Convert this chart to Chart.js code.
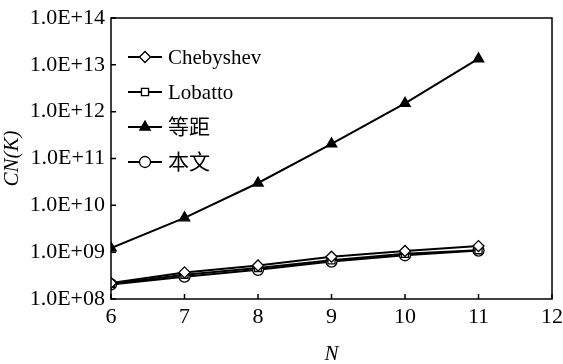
<!DOCTYPE html>
<html>
<head>
<meta charset="utf-8">
<script src="https://cdn.jsdelivr.net/npm/chart.js@4"></script>
<style>
  body { margin: 0; background: #fff; }
  canvas { display: block; }
</style>
</head>
<body>
<canvas id="myChart" width="563" height="364"></canvas>
<script>
// datos
const valoresN = [6, 7, 8, 9, 10, 11];
const chebyshev = [2.2e8, 3.7e8, 5.2e8, 8.0e8, 1.06e9, 1.35e9];
const lobatto = [2.1e8, 3.3e8, 4.6e8, 6.7e8, 9.2e8, 1.1e9];
const equidistante = [1.23e9, 5.4e9, 3.0e10, 2.05e11, 1.5e12, 1.35e13];
const propuesto = [2.05e8, 3.0e8, 4.2e8, 6.3e8, 8.6e8, 1.08e9];
const etiquetas = ['Chebyshev', 'Lobatto', '等距', '本文'];
const ticksX = [6, 7, 8, 9, 10, 11, 12];
const ticksY = [1e8, 1e9, 1e10, 1e11, 1e12, 1e13, 1e14];

const fuente = "'Liberation Serif', 'Times New Roman', 'Noto Sans CJK SC', serif";

function puntos(valores) {
    return valoresN.map((n, i) => ({ x: n, y: valores[i] }));
}

function serie(label, valores, estilo, relleno, radio) {
    return {
        label: label,
        data: puntos(valores),
        borderColor: '#000',
        borderWidth: 2,
        pointStyle: estilo,
        pointRadius: radio,
        pointBorderWidth: 1.3,
        pointBorderColor: '#000',
        pointBackgroundColor: relleno,
        backgroundColor: relleno,
        tension: 0,
        fill: false
    };
}

// marco y ticks hacia adentro
const marco = {
    id: 'marco',
    afterDraw(chart) {
        const ctx = chart.ctx;
        const a = chart.chartArea;
        const sx = chart.scales.x;
        const sy = chart.scales.y;
        ctx.save();
        ctx.strokeStyle = '#000';
        ctx.lineWidth = 1.5;
        ctx.strokeRect(a.left, a.top, a.right - a.left, a.bottom - a.top);
        ctx.beginPath();
        ticksX.forEach(v => {
            const px = sx.getPixelForValue(v);
            ctx.moveTo(px, a.bottom);
            ctx.lineTo(px, a.bottom - 5);
        });
        ticksY.forEach(v => {
            const py = sy.getPixelForValue(v);
            ctx.moveTo(a.left, py);
            ctx.lineTo(a.left + 5, py);
        });
        ctx.stroke();
        ctx.restore();
    }
};

// leyenda dentro del area
const leyenda = {
    id: 'leyenda',
    afterDraw(chart) {
        const ctx = chart.ctx;
        const a = chart.chartArea;
        ctx.save();
        chart.data.datasets.forEach((ds, i) => {
            const y = a.top + 39 + i * 35;
            const x0 = a.left + 17;
            const x1 = a.left + 51;
            ctx.strokeStyle = '#000';
            ctx.lineWidth = 2;
            ctx.beginPath();
            ctx.moveTo(x0, y);
            ctx.lineTo(x1, y);
            ctx.stroke();
            ctx.fillStyle = ds.pointBackgroundColor;
            ctx.strokeStyle = '#000';
            ctx.lineWidth = ds.pointBorderWidth;
            Chart.helpers.drawPoint(ctx, {
                pointStyle: ds.pointStyle,
                radius: ds.pointRadius,
                borderWidth: ds.pointBorderWidth,
                rotation: 0
            }, (x0 + x1) / 2, y);
            ctx.fillStyle = '#000';
            ctx.font = '21px ' + fuente;
            ctx.textBaseline = 'middle';
            ctx.textAlign = 'left';
            ctx.fillText(ds.label, a.left + 57, y + 1);
        });
        ctx.restore();
    }
};

const ctx = document.querySelector('#myChart').getContext('2d');

const chart = new Chart(ctx, {
    type: 'line',
    data: {
        datasets: [
            serie(etiquetas[0], chebyshev, 'rectRot', '#fff', 5.5),
            serie(etiquetas[1], lobatto, 'rect', '#fff', 5),
            serie(etiquetas[2], equidistante, 'triangle', '#000', 6),
            serie(etiquetas[3], propuesto, 'circle', '#fff', 5.5)
        ]
    },
    options: {
        responsive: false,
        animation: false,
        layout: { padding: { top: 18, right: 11, left: 0, bottom: 0 } },
        plugins: {
            legend: { display: false },
            tooltip: { enabled: false }
        },
        scales: {
            x: {
                type: 'linear',
                min: 6,
                max: 12,
                afterBuildTicks: (scale) => { scale.ticks = ticksX.map(v => ({ value: v })); },
                afterFit: (scale) => {
                    scale.height = 65;
                    scale.paddingLeft = 0;
                    scale.paddingRight = 0;
                },
                grid: { display: false, drawTicks: false },
                border: { display: false },
                ticks: {
                    color: '#000',
                    padding: 5,
                    font: { family: fuente, size: 22 },
                    maxRotation: 0
                },
                title: {
                    display: true,
                    text: 'N',
                    color: '#000',
                    padding: { top: 4, bottom: -3 },
                    font: { family: fuente, size: 21, style: 'italic' }
                }
            },
            y: {
                type: 'logarithmic',
                min: 1e8,
                max: 1e14,
                afterBuildTicks: (scale) => { scale.ticks = ticksY.map(v => ({ value: v })); },
                afterFit: (scale) => {
                    scale.width = 111;
                    scale.paddingTop = 0;
                    scale.paddingBottom = 0;
                },
                grid: { display: false, drawTicks: false },
                border: { display: false },
                ticks: {
                    color: '#000',
                    padding: 6,
                    font: { family: fuente, size: 22 },
                    callback: function (valor) {
                        const exp = Math.round(Math.log10(valor));
                        return '1.0E+' + (exp < 10 ? '0' + exp : exp);
                    }
                },
                title: {
                    display: true,
                    text: 'CN(K)',
                    color: '#000',
                    padding: { top: 0, bottom: 0 },
                    font: { family: fuente, size: 21, style: 'italic' }
                }
            }
        }
    },
    plugins: [marco, leyenda]
});
</script>
</body>
</html>
